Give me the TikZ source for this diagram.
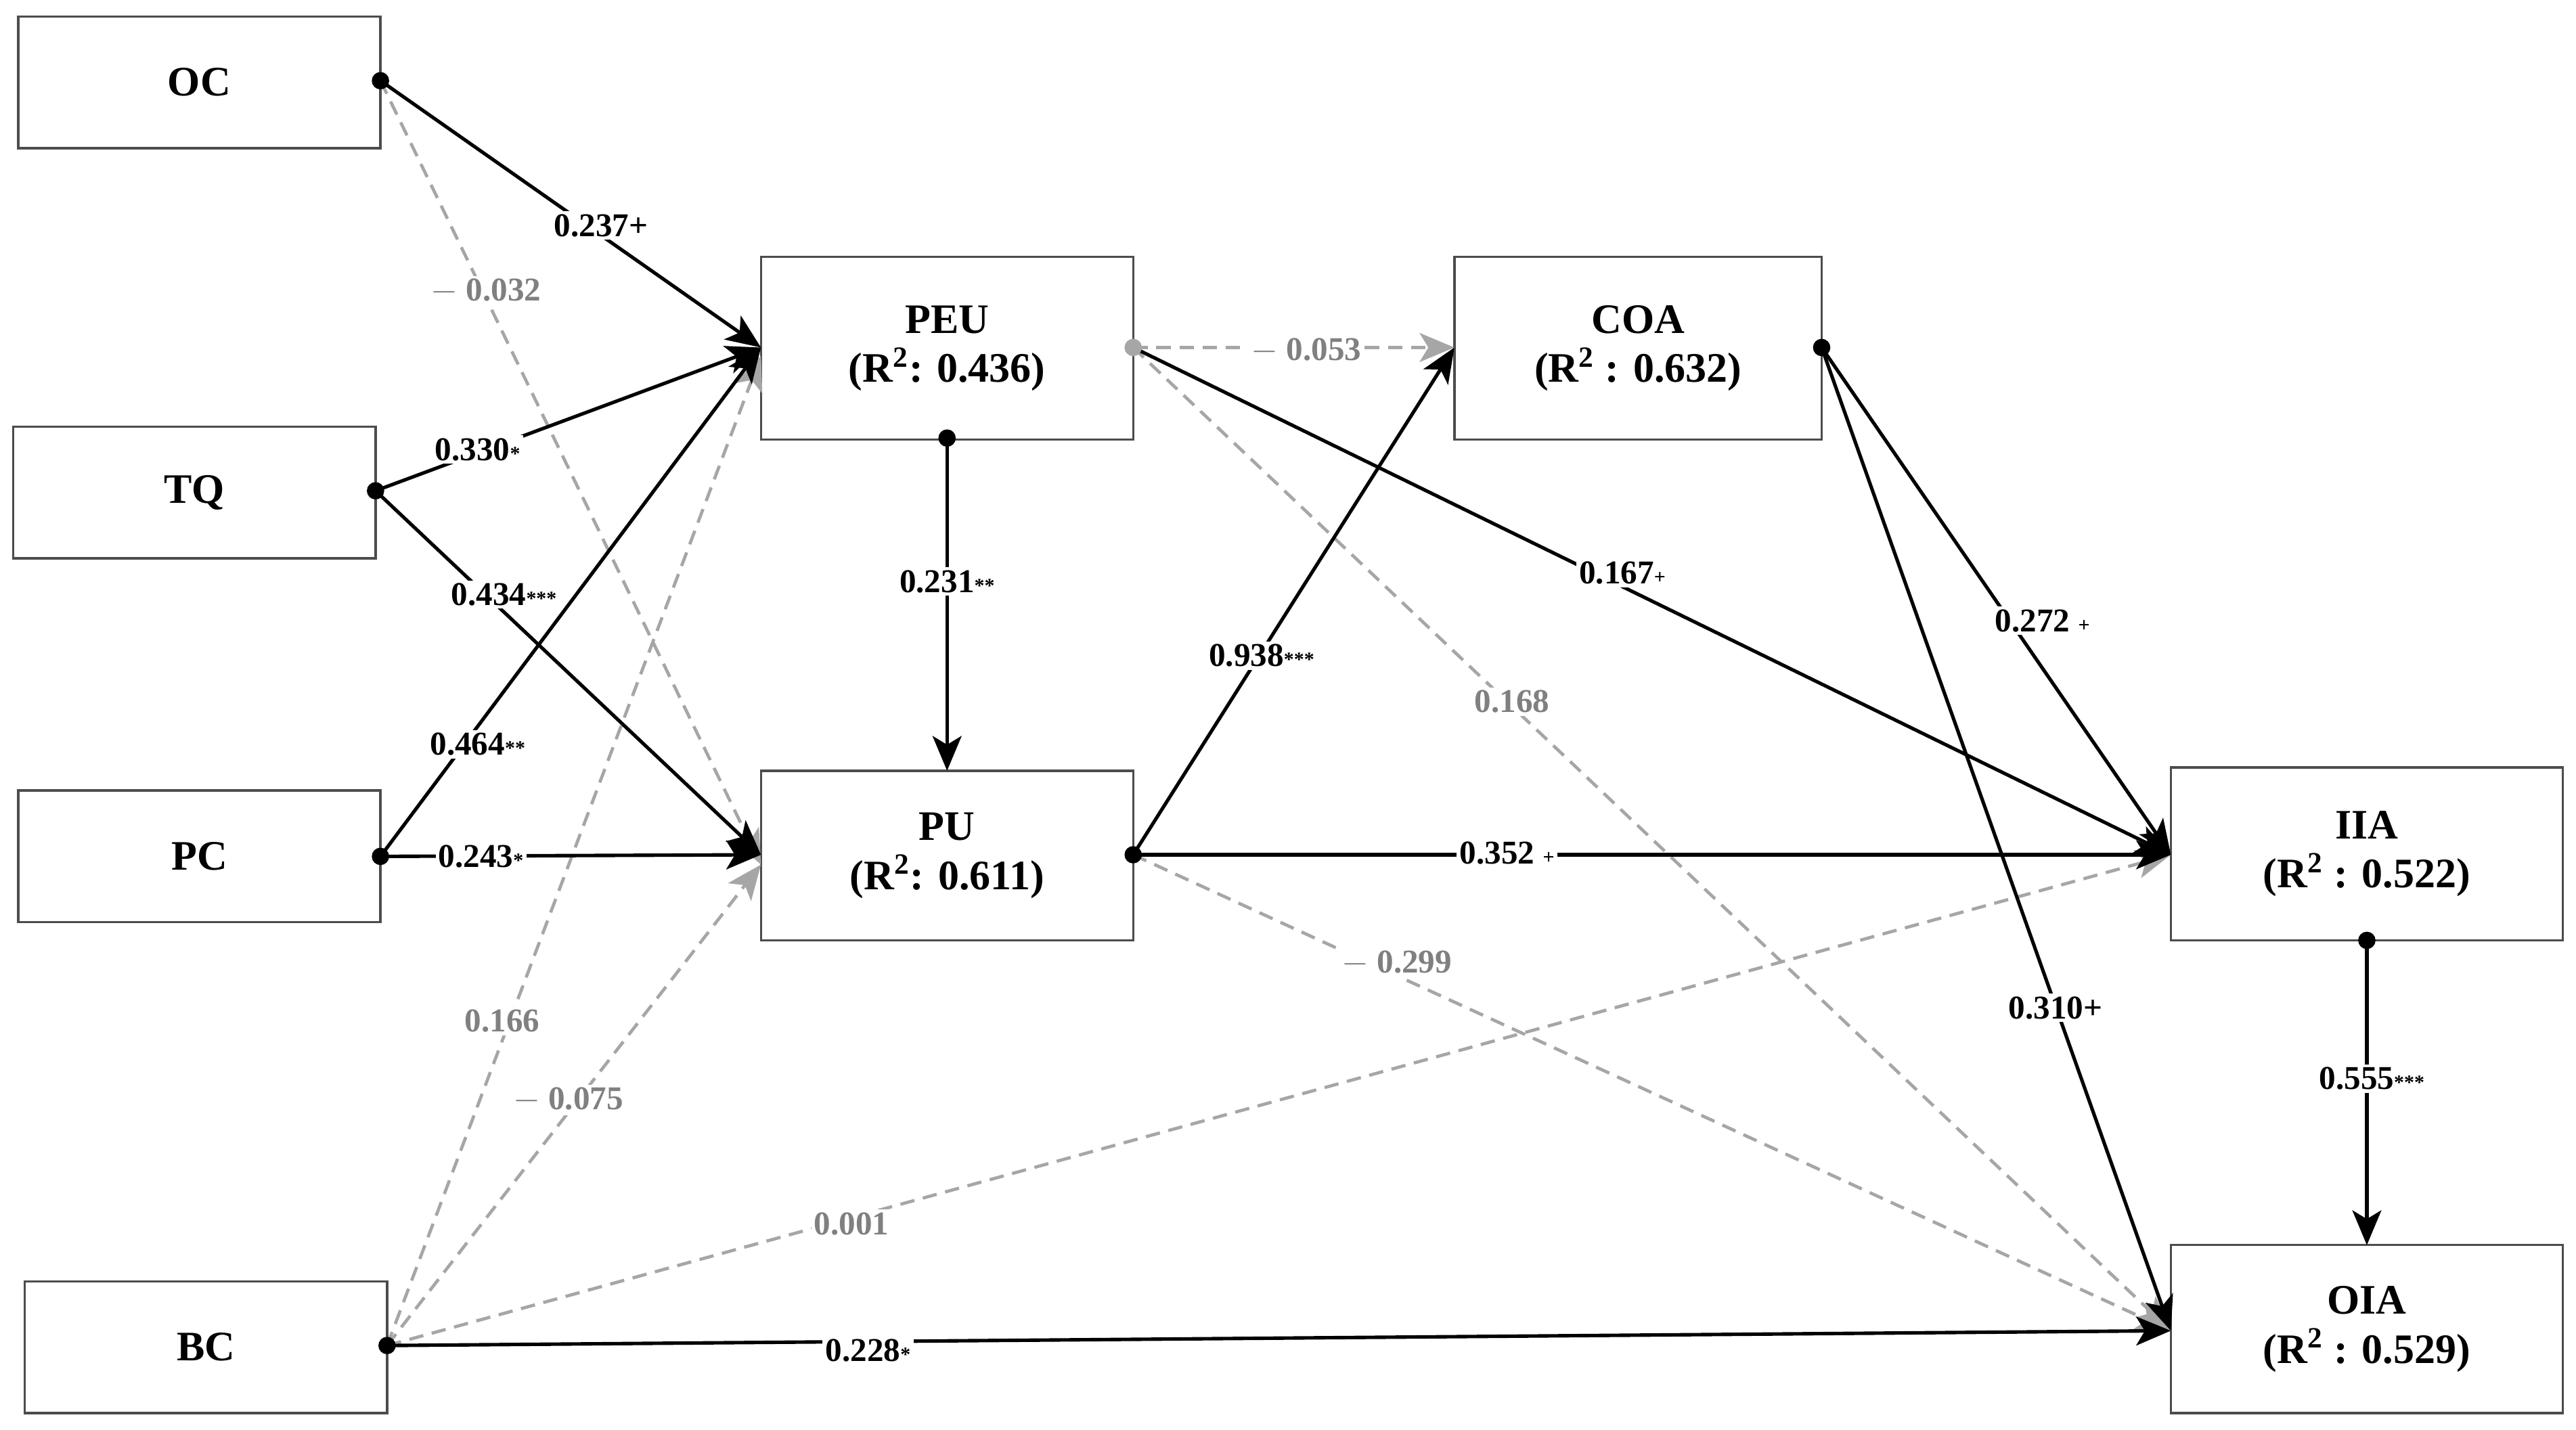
\documentclass[tikz,border=0pt]{standalone}
\usepackage{fontspec}
\setmainfont{Liberation Serif}
\usetikzlibrary{arrows.meta}
\begin{document}
\begin{tikzpicture}[x=0.02cm,y=-0.02cm,
 box/.style={draw=black!70,line width=0.8pt,fill=white,inner sep=0pt,align=center,font=\fontsize{14.5}{17}\selectfont\bfseries},
 sol/.style={line width=1.2pt,black,-{Stealth[length=12pt,width=10pt,inset=3pt]}},
 das/.style={line width=1.1pt,black!35,dash pattern=on 5pt off 3pt,-{Stealth[length=12pt,width=10pt,inset=3pt]}},
 lab/.style={fill=white,inner sep=1pt,font=\fontsize{11.5}{13}\selectfont\bfseries},
 glab/.style={lab,text=black!50},
 dot/.style={circle,fill=black,inner sep=0pt,minimum size=6pt},
 gdot/.style={circle,fill=black!35,inner sep=0pt,minimum size=6pt}]
\useasboundingbox (0,0) rectangle (1564,868);
\newcommand{\st}[1]{{\fontsize{7}{7}\selectfont #1}}
% boxes
\node[box,minimum width=4.4cm,minimum height=1.6cm] (OC) at (121,50) {OC};
\node[box,minimum width=4.4cm,minimum height=1.6cm] (TQ) at (118,299) {TQ};
\node[box,minimum width=4.4cm,minimum height=1.6cm] (PC) at (121,520) {PC};
\node[box,minimum width=4.4cm,minimum height=1.6cm] (BC) at (125,818) {BC};
\node[box,minimum width=4.52cm,minimum height=2.22cm] (PEU) at (575,211.5) {PEU\\(R\textsuperscript{2}: 0.436)};
\node[box,minimum width=4.52cm,minimum height=2.06cm] (PU) at (575,519.5) {PU\\(R\textsuperscript{2}: 0.611)};
\node[box,minimum width=4.46cm,minimum height=2.22cm] (COA) at (994.5,211.5) {COA\\(R\textsuperscript{2} : 0.632)};
\node[box,minimum width=4.76cm,minimum height=2.1cm] (IIA) at (1437,518.5) {IIA\\(R\textsuperscript{2} : 0.522)};
\node[box,minimum width=4.76cm,minimum height=2.04cm] (OIA) at (1437,807) {OIA\\(R\textsuperscript{2} : 0.529)};
% anchors
\coordinate (oc) at (231,49); \coordinate (tq) at (228,298); \coordinate (pc) at (231,520); \coordinate (bc) at (235,817);
\coordinate (peuL) at (462,211); \coordinate (peuLd) at (462,216); \coordinate (peuR) at (688,211); \coordinate (peuB) at (575,266);
\coordinate (puL) at (462,519); \coordinate (puLd) at (462,525); \coordinate (puT) at (575,468); \coordinate (puR) at (688,519);
\coordinate (coaL) at (883,211); \coordinate (coaR) at (1106,211);
\coordinate (iiaL) at (1318,519); \coordinate (iiaB) at (1437,571);
\coordinate (oiaL) at (1318,808); \coordinate (oiaT) at (1437,756);
% dashed
\draw[das] (oc) -- (puLd);
\draw[das] (bc) -- (peuLd);
\draw[das] (bc) -- (puLd);
\draw[das] (bc) -- (iiaL);
\draw[das] (peuR) -- (coaL);
\draw[das] (peuR) -- (oiaL);
\draw[das] (puR) -- (oiaL);
% solid
\draw[sol] (oc) -- (peuL);
\draw[sol] (tq) -- (peuL);
\draw[sol] (tq) -- (puL);
\draw[sol] (pc) -- (peuL);
\draw[sol] (pc) -- (puL);
\draw[sol] (bc) -- (oiaL);
\draw[sol] (peuB) -- (puT);
\draw[sol] (peuR) -- (iiaL);
\draw[sol] (puR) -- (coaL);
\draw[sol] (puR) -- (iiaL);
\draw[sol] (coaR) -- (iiaL);
\draw[sol] (coaR) -- (oiaL);
\draw[sol] (iiaB) -- (oiaT);
% dots
\foreach \p in {oc,tq,pc,bc,peuB,puR,coaR,iiaB} \node[dot] at (\p) {};
\node[gdot] at (peuR) {};
% labels
\node[lab] (l1) at (365,137) {0.237+};
\node[glab] (l2) at (295,177) {$-$ 0.032};
\node[lab] (l3) at (290,273) {0.330\st{*}};
\node[lab] (l4) at (306,361) {0.434\st{***}};
\node[lab] (l5) at (290,452) {0.464\st{**}};
\node[lab] (l6) at (292,520) {0.243\st{*}};
\node[glab] (l7) at (305,620) {0.166};
\node[glab] (l8) at (345,668) {$-$ 0.075};
\node[glab] (l9) at (517,743) {0.001};
\node[lab] (l10) at (527,820) {0.228\st{*}};
\node[glab] (l11) at (793,213) {$-$ 0.053};
\node[lab] (l12) at (575,353) {0.231\st{**}};
\node[lab] (l13) at (985,348) {0.167\st{+}};
\node[glab] (l14) at (918,426) {0.168};
\node[lab] (l15) at (766,398) {0.938\st{***}};
\node[lab] (l16) at (915,518) {0.352 \st{+}};
\node[glab] (l17) at (848,585) {$-$ 0.299};
\node[lab] (l18) at (1240,377) {0.272 \st{+}};
\node[lab] (l19) at (1248,612) {0.310+};
\node[lab] (l20) at (1440,655) {0.555\st{***}};
\end{tikzpicture}
\end{document}
